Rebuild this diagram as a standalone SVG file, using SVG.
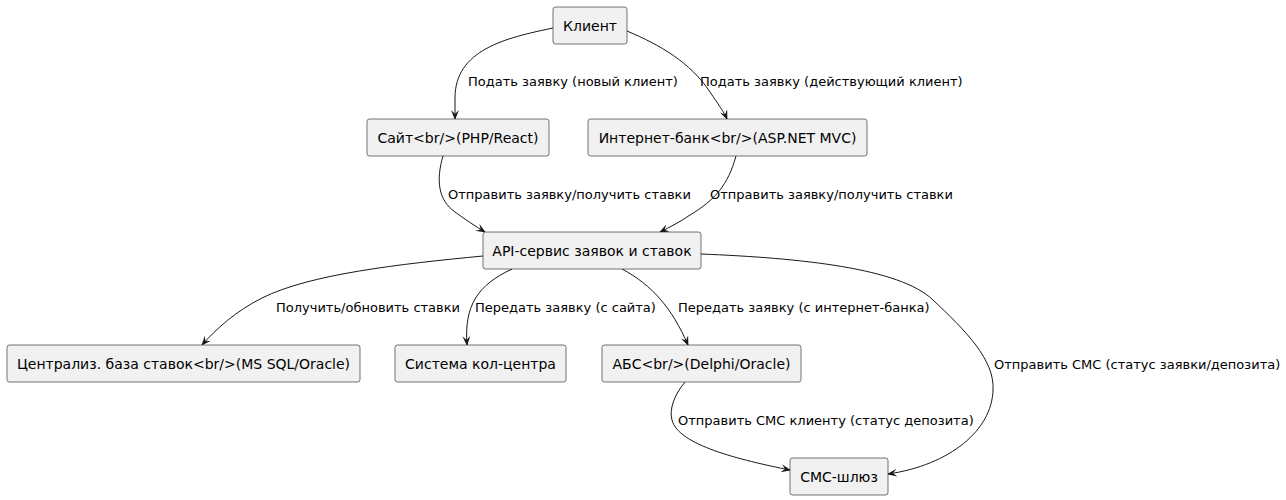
<svg xmlns="http://www.w3.org/2000/svg" width="1286" height="500" viewBox="0 0 1286 500">
  <style>
    .node rect { fill: #F1F1F1; stroke: #181818; stroke-width: 0.6; }
    .node text { font-family: "DejaVu Sans", sans-serif; font-size: 14px; fill: #000; text-anchor: middle; }
    .edges path { fill: none; stroke: #181818; stroke-width: 1; marker-end: url(#arrow); }
    .lbl { font-family: "DejaVu Sans", sans-serif; font-size: 13px; fill: #000; }
  </style>
  <defs>
    <marker id="arrow" viewBox="0 0 10 8" refX="9" refY="4" markerWidth="10" markerHeight="8" markerUnits="userSpaceOnUse" orient="auto">
      <path d="M0,0 L10,4 L0,8 L4,4 Z" fill="#181818"/>
    </marker>
  </defs>
  <rect width="1286" height="500" fill="#FFFFFF"/>

  <g class="edges">
    <path d="M553,28 C505,38 455,50 455,98 L455,119"/>
    <path d="M627,31 C660,45 690,62 710,92 C718,104 724,112 727,119"/>
    <path d="M443,156 C436,180 438,200 455,212 C466,220 475,226 485,232"/>
    <path d="M736,156 C728,185 715,200 690,215 C680,222 670,227 660,232"/>
    <path d="M483,256 C400,264 310,274 262,298 C236,311 216,329 202,345"/>
    <path d="M512,269 C478,285 464,305 467,345"/>
    <path d="M622,269 C652,285 672,308 688,345"/>
    <path d="M701,254 C800,258 900,268 933,300 C965,330 995,360 993,390 C992,430 950,465 888,474"/>
    <path d="M685,382 C674,395 669,410 672,420 C678,445 740,460 790,470"/>
  </g>

  <g class="labels">
    <text class="lbl" x="468" y="86">Подать заявку (новый клиент)</text>
    <text class="lbl" x="700" y="86">Подать заявку (действующий клиент)</text>
    <text class="lbl" x="448" y="199">Отправить заявку/получить ставки</text>
    <text class="lbl" x="710" y="199">Отправить заявку/получить ставки</text>
    <text class="lbl" x="276" y="312">Получить/обновить ставки</text>
    <text class="lbl" x="475" y="312">Передать заявку (с сайта)</text>
    <text class="lbl" x="678" y="312">Передать заявку (с интернет-банка)</text>
    <text class="lbl" x="994" y="369">Отправить СМС (статус заявки/депозита)</text>
    <text class="lbl" x="678" y="425">Отправить СМС клиенту (статус депозита)</text>
  </g>

  <g id="client" class="node">
    <rect x="553" y="7" width="74" height="37" rx="2.5"/>
    <text x="590" y="30.5">Клиент</text>
  </g>
  <g id="site" class="node">
    <rect x="367" y="119" width="182" height="37" rx="2.5"/>
    <text x="458" y="142.5">Сайт&lt;br/&gt;(PHP/React)</text>
  </g>
  <g id="ibank" class="node">
    <rect x="588" y="119" width="279" height="37" rx="2.5"/>
    <text x="727.5" y="142.5">Интернет-банк&lt;br/&gt;(ASP.NET MVC)</text>
  </g>
  <g id="api" class="node">
    <rect x="483" y="232" width="218" height="37" rx="2.5"/>
    <text x="592" y="255.5">API-сервис заявок и ставок</text>
  </g>
  <g id="ratesdb" class="node">
    <rect x="7" y="345" width="353" height="37" rx="2.5"/>
    <text x="183.5" y="368.5">Централиз. база ставок&lt;br/&gt;(MS SQL/Oracle)</text>
  </g>
  <g id="callcenter" class="node">
    <rect x="395" y="345" width="171" height="37" rx="2.5"/>
    <text x="480.5" y="368.5">Система кол-центра</text>
  </g>
  <g id="abs" class="node">
    <rect x="602" y="345" width="199" height="37" rx="2.5"/>
    <text x="701.5" y="368.5">АБС&lt;br/&gt;(Delphi/Oracle)</text>
  </g>
  <g id="sms" class="node">
    <rect x="790" y="458" width="98" height="37" rx="2.5"/>
    <text x="839" y="481.5">СМС-шлюз</text>
  </g>
</svg>
